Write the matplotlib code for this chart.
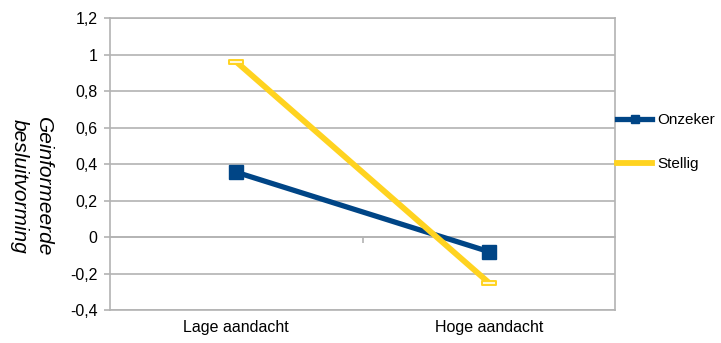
import matplotlib
matplotlib.use("Agg")
import matplotlib.pyplot as plt
from matplotlib.lines import Line2D
from matplotlib.path import Path

plt.rcParams['font.family'] = ['Liberation Sans', 'DejaVu Sans']

categories = ["Lage aandacht", "Hoge aandacht"]
onzeker = [0.355, -0.08]
stellig = [0.96, -0.25]
yticks = [-0.4, -0.2, 0, 0.2, 0.4, 0.6, 0.8, 1, 1.2]
ytick_labels = ["-0,4", "-0,2", "0", "0,2", "0,4", "0,6", "0,8", "1", "1,2"]

blue = "#004586"
yellow = "#ffd320"
grid = "#b3b3b3"

fig = plt.figure(figsize=(7.21, 3.43), dpi=100)
ax = fig.add_axes([0.1526, 0.0962, 0.7004, 0.8513])

x = list(range(len(categories)))

# flat rectangle marker for the "Stellig" series
rect = Path([(-1, -0.33), (1, -0.33), (1, 0.33), (-1, 0.33), (-1, -0.33)],
            [Path.MOVETO, Path.LINETO, Path.LINETO, Path.LINETO, Path.CLOSEPOLY])

ax.plot(x, onzeker, color=blue, lw=3.8, marker="s", ms=10.5,
        solid_capstyle="butt", zorder=3)
ax.plot(x, stellig, color=yellow, lw=4.2, marker=rect, ms=10,
        mfc="#fff8d8", mec=yellow, mew=1.4, solid_capstyle="butt", zorder=4)

ax.set_xlim(-0.5, 1.5)
ax.set_ylim(-0.4, 1.2)
ax.set_yticks(yticks)
ax.set_yticklabels(ytick_labels, fontsize=11.5)
ax.set_xticks(x)
ax.set_xticklabels(categories, fontsize=11.5)
ax.tick_params(axis="x", length=0, pad=7)
ax.tick_params(axis="y", length=4, color=grid, width=1.2, pad=5)

ax.yaxis.grid(True, color=grid, lw=1.2)
ax.set_axisbelow(True)
for s in ax.spines.values():
    s.set_color(grid)
    s.set_linewidth(1.2)

# category axis crossing at y = 0 with a divider tick
zero_frac = (0 - (-0.4)) / (1.2 - (-0.4))
sec = ax.secondary_xaxis(zero_frac)
sec.set_xticks([0.5])
sec.set_xticklabels([])
sec.tick_params(axis="x", direction="out", length=4, color=grid, width=1.2)
sec.spines["bottom"].set_color(grid)
sec.spines["bottom"].set_linewidth(1.2)

# axis title reads top to bottom
ax.set_ylabel("Geinformeerde\nbesluitvorming", fontsize=15, style="italic",
              linespacing=1.4, rotation=-90, va="center", ha="center",
              rotation_mode="anchor")
ax.yaxis.set_label_coords(-0.156, 0.422)

handles = [
    Line2D([], [], color=blue, lw=3.8, marker="s", ms=6),
    Line2D([], [], color=yellow, lw=4.2),
]
ax.legend(handles, ["Onzeker", "Stellig"], loc="upper left",
          bbox_to_anchor=(0.992, 0.695), frameon=False, fontsize=11,
          handlelength=2.3, handletextpad=0.35, labelspacing=1.95,
          borderaxespad=0)

fig.savefig("out.png", dpi=100)
